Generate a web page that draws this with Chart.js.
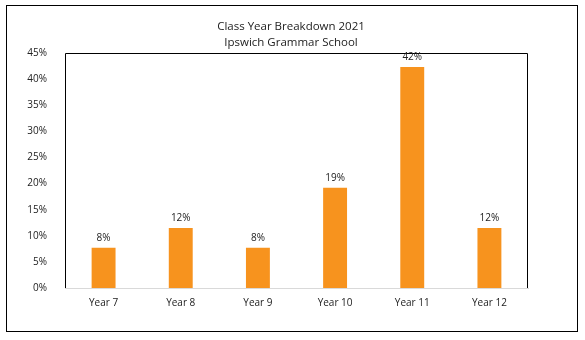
<!DOCTYPE html>
<html>
<head>
<meta charset="utf-8">
<script src="https://cdn.jsdelivr.net/npm/chart.js@4"></script>
<style>
    html, body { margin: 0; padding: 0; background: #fff; }
    #wrap { position: relative; width: 585px; height: 340px; }
</style>
</head>
<body>
<div id="wrap"><canvas id="year-chart" width="585" height="340"></canvas></div>
<script>
// Share of students in each class year (percent)
const years = ['Year 7', 'Year 8', 'Year 9', 'Year 10', 'Year 11', 'Year 12'];
const shares = [7.7, 11.5, 7.7, 19.2, 42.3, 11.5];
const titleLines = ['Class Year Breakdown 2021', 'Ipswich Grammar School'];

const FONT = "'Open Sans', 'Liberation Sans', sans-serif";

// Outer frame, title centred on the frame, plot border and value labels
const frameAndLabels = {
    id: 'frameAndLabels',
    afterDraw: function(chart) {
        const ctx = chart.ctx;
        const area = chart.chartArea;
        ctx.save();
        ctx.strokeStyle = '#000';
        ctx.lineWidth = 1;
        ctx.strokeRect(6.5, 5.5, 571, 326);

        ctx.beginPath();
        ctx.moveTo(area.left + 0.5, area.bottom);
        ctx.lineTo(area.left + 0.5, area.top + 0.5);
        ctx.lineTo(area.right - 0.5, area.top + 0.5);
        ctx.lineTo(area.right - 0.5, area.bottom);
        ctx.stroke();

        ctx.fillStyle = '#222';
        ctx.textAlign = 'center';
        ctx.textBaseline = 'alphabetic';
        ctx.font = '11.5px ' + FONT;
        titleLines.forEach(function(line, i) {
            ctx.fillText(line, 291, 30 + i * 16);
        });

        ctx.font = '10px ' + FONT;
        ctx.textBaseline = 'bottom';
        chart.getDatasetMeta(0).data.forEach(function(bar, i) {
            ctx.fillText(Math.round(shares[i]) + '%', bar.x, bar.y - 5);
        });
        ctx.restore();
    }
};

new Chart(document.getElementById('year-chart'), {
    type: 'bar',
    data: {
        labels: years,
        datasets: [{
            data: shares,
            backgroundColor: '#f7931e',
            borderWidth: 0,
            barPercentage: 0.31,
            categoryPercentage: 1
        }]
    },
    options: {
        responsive: false,
        animation: false,
        layout: { padding: { top: 53, right: 57, bottom: 22, left: 0 } },
        plugins: {
            legend: { display: false },
            tooltip: { enabled: false },
            title: { display: false }
        },
        scales: {
            x: {
                grid: { display: false },
                border: { color: '#d9d9d9', width: 1 },
                ticks: { color: '#222', font: { family: FONT, size: 10 }, padding: 1 },
                afterFit: function(scale) { scale.height = 30; }
            },
            y: {
                min: 0,
                max: 45,
                grid: { display: false },
                border: { display: false },
                ticks: {
                    stepSize: 5,
                    color: '#222',
                    padding: 10,
                    font: { family: FONT, size: 10 },
                    callback: function(value) { return value + '%'; }
                },
                afterFit: function(scale) { scale.width = 65; }
            }
        }
    },
    plugins: [frameAndLabels]
});
</script>
</body>
</html>
